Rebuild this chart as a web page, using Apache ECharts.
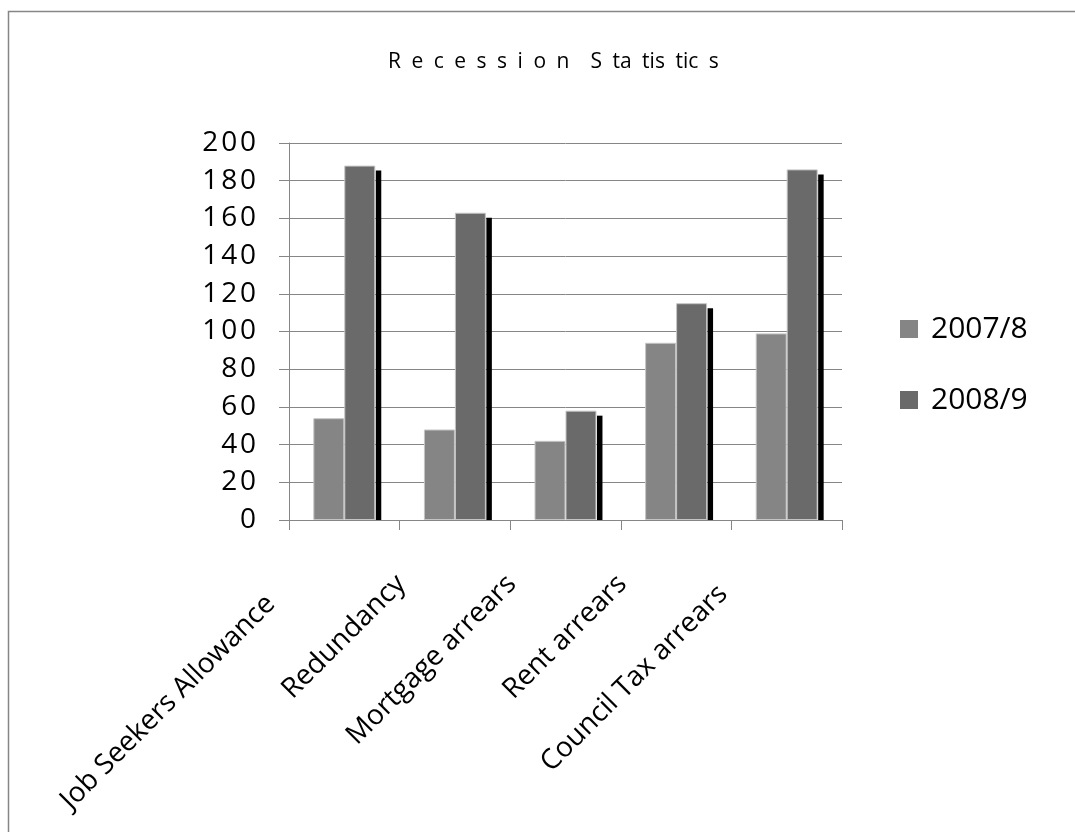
<!DOCTYPE html>
<html>
<head>
<meta charset="utf-8">
<style>
  html, body { margin: 0; padding: 0; background: #fff; }
  #chart { width: 1075px; height: 832px; }
</style>
<script src="https://cdn.jsdelivr.net/npm/echarts@6/dist/echarts.min.js"></script>
</head>
<body>
<div id="chart"></div>
<script>
// Chart content
const chartTitle = 'R e c e s s i o n  S ta tis tic s';
const categories = ['Job Seekers Allowance', 'Redundancy', 'Mortgage arrears', 'Rent arrears', 'Council Tax arrears'];
const seriesNames = ['2007/8', '2008/9'];
const values2007 = [54, 48, 42, 94, 99];
const values2008 = [188, 163, 58, 115, 186];
const yTicks = { min: 0, max: 200, interval: 20 };

const FONT = 'Open Sans';
const CAT_GAP = 0.44;           // share of each category left empty
const spaced = s => String(s).split('').join('\u200A');

// per-label nudge along the slanted baseline
const labelPad = [104, 76, 76, 76, 90];
const categoryItems = categories.map((c, i) => ({
  value: c,
  textStyle: { padding: [0, labelPad[i], 0, 0] }
}));

const chart = echarts.init(document.getElementById('chart'), null, { renderer: 'canvas' });

// flat drop shadow to the right of each 2008/9 bar
function renderShadow(params, api) {
  const idx = api.value(0);
  const top = api.coord([idx, api.value(1)]);
  const base = api.coord([idx, 0]);
  const band = api.size([1, 0])[0];
  const barW = band * (1 - CAT_GAP) / 2;
  const x = top[0] + barW + 0.5;
  const y = top[1] + 5;
  return {
    type: 'rect',
    shape: { x: x, y: y, width: 5.5, height: base[1] - y },
    style: { fill: '#000' }
  };
}

chart.setOption({
  animation: false,
  backgroundColor: '#ffffff',
  title: {
    text: chartTitle.replace(/ /g, '\u2002'),
    left: 383,
    top: 47,
    textStyle: { fontFamily: FONT, fontSize: 21, fontWeight: 'normal', color: '#000' }
  },
  legend: {
    orient: 'vertical',
    left: 895,
    top: 306,
    itemWidth: 18,
    itemHeight: 18,
    itemGap: 35,
    icon: 'rect',
    data: seriesNames,
    itemStyle: { borderWidth: 0 },
    textStyle: { fontFamily: FONT, fontSize: 30, color: '#000', lineHeight: 36, padding: [0, 0, 0, 8] }
  },
  graphic: [{
    type: 'rect',
    silent: true,
    shape: { x: 8.5, y: 11.5, width: 2000, height: 2000 },
    style: { fill: null, stroke: '#868686', lineWidth: 1.5 }
  }],
  grid: { left: 289, right: 233, top: 143, bottom: 312, containLabel: false },
  xAxis: {
    type: 'category',
    data: categoryItems,
    boundaryGap: true,
    axisLine: { lineStyle: { color: '#868686', width: 1 } },
    axisTick: { show: true, length: 10, lineStyle: { color: '#868686' } },
    axisLabel: {
      rotate: 45,
      interval: 0,
      margin: 6,
      fontFamily: FONT,
      fontSize: 28,
      color: '#000'
    },
    splitLine: { show: false }
  },
  yAxis: {
    type: 'value',
    min: yTicks.min,
    max: yTicks.max,
    interval: yTicks.interval,
    axisLine: { show: true, lineStyle: { color: '#868686', width: 1 } },
    axisTick: { show: true, length: 10, lineStyle: { color: '#868686' } },
    axisLabel: {
      margin: 33,
      fontFamily: FONT,
      fontSize: 28,
      color: '#000',
      formatter: v => spaced(v)
    },
    splitLine: { show: true, lineStyle: { color: '#868686', width: 1 } }
  },
  series: [
    {
      name: seriesNames[0],
      type: 'bar',
      data: values2007,
      barGap: '0%',
      barCategoryGap: (CAT_GAP * 100) + '%',
      itemStyle: { color: '#858585', borderColor: '#c4c4c4', borderWidth: 1 }
    },
    {
      name: seriesNames[1],
      type: 'bar',
      data: values2008,
      barGap: '0%',
      barCategoryGap: (CAT_GAP * 100) + '%',
      itemStyle: { color: '#6a6a6a', borderColor: '#c4c4c4', borderWidth: 1 }
    },
    {
      type: 'custom',
      silent: true,
      renderItem: renderShadow,
      encode: { x: 0, y: 1 },
      data: values2008.map((v, i) => [i, v])
    }
  ]
});
</script>
</body>
</html>
